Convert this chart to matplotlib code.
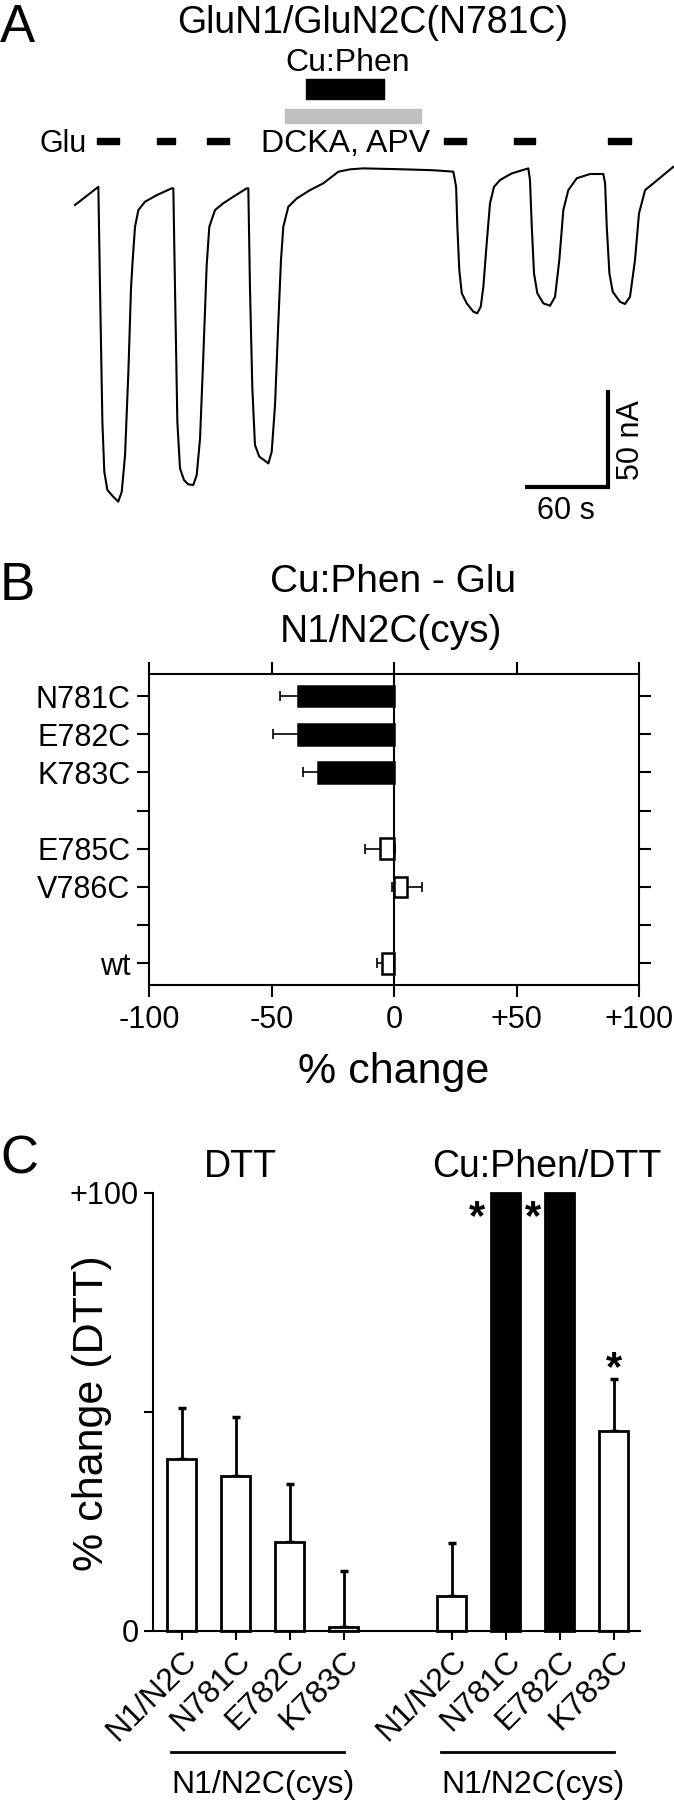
"""
Cys cross-linking figure: current trace (A), Cu:Phen effect (B), DTT effect (C).
Output: out.png
"""
import matplotlib
matplotlib.use("Agg")
import matplotlib.pyplot as plt
import matplotlib.transforms as mtransforms

plt.rcParams["font.family"] = ["Liberation Sans", "DejaVu Sans"]

W, H = 674, 1800  # output size, px

# ---- panel A: two-electrode recording (time s, current nA)
trace_t = [0.7, 17.6, 18.8, 20.5, 21.9, 24.1, 28.4, 32.0, 34.5, 36.9, 39.3, 41.2,
           42.4, 44.1, 46.5, 51.3, 59.8, 70.6, 71.8,
           73.0, 74.7, 76.6, 79.5, 82.6, 86.2, 88.7, 91.1, 93.5, 95.9, 97.8, 101.9,
           107.9, 115.2, 124.8, 126.0,
           127.2, 128.9, 130.8, 134.0, 137.4, 140.5, 142.9, 145.3, 147.7, 149.6,
           151.3, 154.9, 161.0, 170.6, 180.2, 191.1, 199.5, 209.1, 233.3, 257.4,
           264.6, 274.2, 276.2, 277.1, 278.5, 280.3, 283.9, 288.7, 291.5, 294.0,
           295.9, 298.3, 300.7, 303.6, 308.0, 316.4, 328.4,
           329.6, 330.9, 332.5, 334.9, 339.3, 344.1, 347.7, 350.8, 353.7, 357.3,
           363.4, 373.0, 382.6,
           383.9, 385.1, 387.0, 389.4, 394.7, 398.3, 401.9, 405.5, 408.4, 412.8,
           418.8, 433.2]
trace_i = [-17.0, -7.6, -59.9, -128.7, -154.5, -163.9, -167.4, -169.9, -164.8, -145.9,
           -102.9, -59.9, -45.4, -28.2, -19.6, -15.3, -11.9, -8.4, -8.4,
           -59.9, -128.7, -152.7, -158.8, -161.0, -161.3, -156.2, -137.3, -94.3,
           -48.0, -28.2, -19.6, -16.1, -12.7, -8.4, -8.4,
           -59.9, -111.5, -140.7, -146.8, -148.5, -150.2, -144.2, -120.1, -77.2,
           -45.4, -28.2, -17.9, -13.6, -9.3, -5.8, 0.2, 1.4, 1.9, 1.5, 1.0,
           0.7, 0.2, -7.6, -28.2, -50.5, -62.5, -67.7, -72.0, -72.8, -69.4,
           -59.1, -36.8, -16.1, -7.6, -4.1, -0.7, 1.9,
           -4.1, -28.2, -52.2, -62.5, -67.7, -68.9, -64.3, -45.4, -19.6, -9.3,
           -3.2, -1.0, -1.0,
           -5.8, -28.2, -52.2, -61.7, -66.9, -68.0, -64.3, -45.4, -21.3, -9.3,
           -5.8, 2.7]

glu_on = [16.6, 60.0, 96.2, 267.5, 318.0, 386.1]
glu_off = [32.5, 73.0, 112.1, 283.4, 333.2, 402.7]
cuphen_on, cuphen_off = 167.4, 224.3
dcka_on, dcka_off = 152.6, 250.9
scale_t, scale_i = 60, 50  # scale bar: 60 s, 50 nA

# ---- panel B: Cu:Phen - Glu, % change
b_ticklabels = ["N781C", "E782C", "K783C", "", "E785C", "V786C", "", "wt"]
b_slots = [0, 1, 2, 4, 5, 7]
b_vals = [-39.2, -39.2, -31.0, -5.7, 5.4, -5.0]
b_err = [7.3, 10.1, 6.0, 6.3, 6.2, 2.1]
b_black = [True, True, True, False, False, False]
b_xticks = [-100, -50, 0, 50, 100]
b_xticklabels = ["-100", "-50", "0", "+50", "+100"]

# ---- panel C: % change after DTT
c_labels = ["N1/N2C", "N781C", "E782C", "K783C", "N1/N2C", "N781C", "E782C", "K783C"]
c_pos = [0, 1, 2, 3, 5, 6, 7, 8]
c_vals = [39.3, 35.4, 20.3, 0.8, 8.1, 100, 100, 45.6]
c_err = [11.6, 13.4, 13.3, 13.0, 12.1, 0, 0, 12.0]
c_black = [False, False, False, False, False, True, True, False]
c_star_x = [5.47, 6.51, 8.0]
c_star_y = [96.2, 96.2, 61.6]
c_groups = [[0, 1, 2, 3], [4, 5, 6, 7]]  # indices into c_pos


def box(l, t, r, b):
    """axes rect from pixel edges (top-left origin)"""
    return [l / W, 1 - b / H, (r - l) / W, (b - t) / H]


def ftext(x, y, s, **kw):
    fig.text(x / W, 1 - y / H, s, **kw)


fig = plt.figure(figsize=(W / 100, H / 100), dpi=100)

# ================= A
axA = fig.add_axes(box(0, 0, 674, 535))
axA.set_xlim(-53.5, 433.7)
axA.set_ylim(-187.1, 88.7)
axA.axis("off")
axA.plot(trace_t, trace_i, color="black", lw=1.5, solid_joinstyle="round")
axA.broken_barh([(a, b - a) for a, b in zip(glu_on, glu_off)], (14.4, 3.1), color="black")
axA.broken_barh([(cuphen_on, cuphen_off - cuphen_on)], (37.6, 10.3), color="black")
axA.broken_barh([(dcka_on, dcka_off - dcka_on)], (25.3, 7.2), color="#bfbfbf")

sb_x, sb_y = 386.0, -162.4
axA.plot([sb_x - scale_t, sb_x, sb_x], [sb_y, sb_y, sb_y + scale_i],
         color="black", lw=3, solid_joinstyle="miter", solid_capstyle="butt")
ftext(566, 519, f"{scale_t} s", ha="center", va="baseline", fontsize=22)
ftext(631, 440, f"{scale_i} nA", ha="center", va="center", rotation=90, fontsize=22)

ftext(0, 42, "A", ha="left", va="baseline", fontsize=38)
ftext(373, 33, "GluN1/GluN2C(N781C)", ha="center", va="baseline", fontsize=27)
ftext(348, 71, "Cu:Phen", ha="center", va="baseline", fontsize=23)
ftext(87, 152, "Glu", ha="right", va="baseline", fontsize=22)
ftext(346, 152, "DCKA, APV", ha="center", va="baseline", fontsize=23)

# ================= B
axB = fig.add_axes(box(149, 674, 639, 985))
axB.errorbar(b_vals, b_slots, xerr=b_err, fmt="none", ecolor="black",
             elinewidth=1.2, capsize=3.6, capthick=1.2, zorder=1)
axB.barh(b_slots, b_vals, height=0.54, color=["black" if k else "white" for k in b_black],
         edgecolor="black", linewidth=1.8, zorder=2)
axB.axvline(0, color="black", lw=1.5, zorder=3)
axB.set_xlim(-100, 100)
axB.set_ylim(7.57, -0.58)
axB.set_xticks(b_xticks)
axB.set_xticklabels(b_xticklabels)
axB.set_yticks(range(len(b_ticklabels)))
axB.set_yticklabels(b_ticklabels)
axB.tick_params(axis="x", direction="out", length=8.5, width=1.5, top=True,
                labelsize=22, pad=6)
axB.tick_params(axis="y", direction="out", length=8.5, width=1.5, right=True,
                labelsize=22, pad=5)
for sp in axB.spines.values():
    sp.set_linewidth(1.5)

ftext(0, 600, "B", ha="left", va="baseline", fontsize=38)
ftext(393, 592, "Cu:Phen - Glu", ha="center", va="baseline", fontsize=28)
ftext(391, 642, "N1/N2C(cys)", ha="center", va="baseline", fontsize=28)
ftext(394, 1083, "% change", ha="center", va="baseline", fontsize=31)

# ================= C
axC = fig.add_axes(box(153, 1193, 640, 1631))
err_idx = [i for i, e in enumerate(c_err) if e > 0]
axC.errorbar([c_pos[i] for i in err_idx], [c_vals[i] for i in err_idx],
             yerr=[[0] * len(err_idx), [c_err[i] for i in err_idx]], fmt="none",
             ecolor="black", elinewidth=2, capsize=2.7, capthick=2.5, zorder=1)
axC.bar(c_pos, c_vals, width=0.53, color=["black" if k else "white" for k in c_black],
        edgecolor="black", linewidth=2, zorder=2, clip_on=False)
for x, y in zip(c_star_x, c_star_y):
    axC.annotate("*", (x, y), xytext=(0, -6), textcoords="offset points",
                 ha="center", va="center", fontsize=30, fontweight="bold")
axC.set_xlim(-0.53, 8.49)
axC.set_ylim(0, 100)
axC.spines["top"].set_visible(False)
axC.spines["right"].set_visible(False)
for sp in ("left", "bottom"):
    axC.spines[sp].set_linewidth(1.5)
axC.set_yticks([0, 50, 100])
axC.set_yticklabels(["0", "", "+100"])
axC.set_xticks(c_pos)
axC.set_xticklabels(c_labels, rotation=45, ha="right", rotation_mode="anchor")
axC.tick_params(axis="both", direction="out", length=6.5, width=1.5, labelsize=22, pad=4)
axC.tick_params(axis="x", labelsize=23)

trans = mtransforms.blended_transform_factory(axC.transData, axC.transAxes)
for grp in c_groups:
    x0, x1 = c_pos[grp[0]] - 0.2, c_pos[grp[-1]]
    axC.plot([x0, x1], [-0.2756, -0.2756], color="black", lw=2,
             transform=trans, clip_on=False)
    axC.text((x0 + x1) / 2 + 0.1, -0.371, "N1/N2C(cys)", transform=trans,
             ha="center", va="baseline", fontsize=23)

ftext(0, 1173, "C", ha="left", va="baseline", fontsize=38)
ftext(240, 1177, "DTT", ha="center", va="baseline", fontsize=27)
ftext(547, 1177, "Cu:Phen/DTT", ha="center", va="baseline", fontsize=27)
ftext(92, 1413, "% change (DTT)", ha="center", va="center", rotation=90, fontsize=31)

fig.savefig("out.png", dpi=100)
